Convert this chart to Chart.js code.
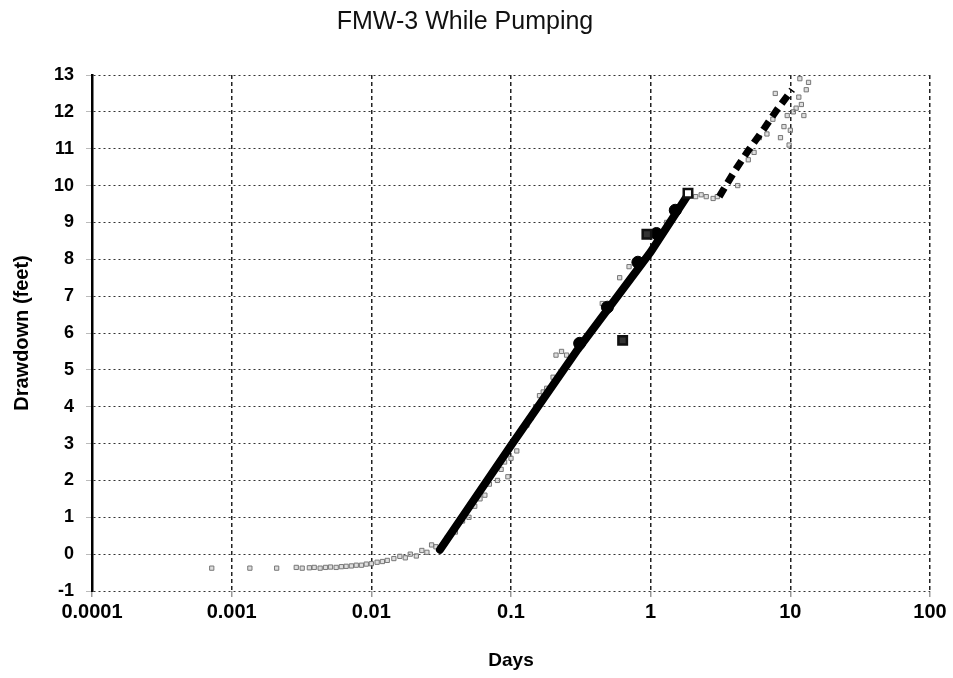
<!DOCTYPE html>
<html>
<head>
<meta charset="utf-8">
<title>FMW-3 While Pumping</title>
<script src="https://cdn.jsdelivr.net/npm/chart.js@4.4.1/dist/chart.umd.min.js"></script>
<style>
    html, body { margin: 0; padding: 0; background: #fff; }
    #wrap { width: 953px; height: 678px; }
</style>
</head>
<body>
<div id="wrap"><canvas id="drawdownChart" width="953" height="678"></canvas></div>
<script>
// Axis ticks
const xTicks = [0.0001, 0.001, 0.01, 0.1, 1, 10, 100];
const xTickLabels = ['0.0001', '0.001', '0.01', '0.1', '1', '10', '100'];

// Raw transducer readings (grey)
const rawDays = [
    0.00072, 0.00135, 0.0021, 0.0029, 0.0032, 0.0036, 0.0039, 0.0043, 0.0047, 0.0051,
    0.0056, 0.0061, 0.0066, 0.0072, 0.0078, 0.0085, 0.0092, 0.01, 0.011, 0.012,
    0.013, 0.0145, 0.016, 0.0175, 0.019, 0.021, 0.023, 0.025, 0.027, 0.029,
    0.035, 0.04, 0.045, 0.05, 0.055, 0.06, 0.065, 0.07, 0.08, 0.085,
    0.09, 0.095, 0.1, 0.11, 0.12, 0.13, 0.14, 0.15, 0.16, 0.17,
    0.18, 0.2, 0.21, 0.23, 0.25, 0.45, 0.6, 0.7, 0.9, 1.1,
    1.3, 1.6, 2.1, 2.3, 2.5, 2.8, 3.0, 4.2, 5.0, 5.5,
    6.0, 6.8, 7.5, 7.8, 8.5, 9.0, 9.5, 9.8, 10.0, 10.5,
    11.0, 11.5, 11.7, 12.0, 12.5, 13.0, 13.5
];
const rawDrawdown = [
    -0.38, -0.38, -0.38, -0.36, -0.38, -0.37, -0.36, -0.38, -0.36, -0.35,
    -0.36, -0.34, -0.33, -0.32, -0.3, -0.3, -0.27, -0.26, -0.22, -0.2,
    -0.17, -0.12, -0.06, -0.1, 0.0, -0.05, 0.1, 0.05, 0.25, 0.2,
    0.45, 0.6, 0.9, 1.0, 1.3, 1.5, 1.6, 1.9, 2.0, 2.3,
    2.5, 2.1, 2.6, 2.8, 3.4, 3.5, 3.7, 4.0, 4.3, 4.4,
    4.5, 4.8, 5.4, 5.5, 5.4, 6.8, 7.5, 7.8, 8.0, 8.6,
    9.0, 9.4, 9.7, 9.75, 9.7, 9.65, 9.7, 10.0, 10.7, 10.9,
    11.3, 11.4, 11.8, 12.5, 11.3, 11.6, 11.9, 11.1, 11.5, 12.0,
    12.1, 12.4, 12.9, 12.2, 11.9, 12.6, 12.8
];

// Fitted drawdown trend (thick black line)
const trendDays = [0.031, 0.1, 0.3, 1, 1.85];
const trendDrawdown = [0.12, 2.95, 5.55, 8.2, 9.75];

// Late-time trend (dashed black)
const lateDays = [3.1, 4.0, 5.0, 6.5, 8.0, 10.3];
const lateDrawdown = [9.7, 10.4, 10.95, 11.55, 12.05, 12.6];

// Manual readings (black dots on the trend)
const manualDays = [0.31, 0.49, 0.81, 1.1, 1.5];
const manualDrawdown = [5.72, 6.7, 7.92, 8.7, 9.33];

// Check readings (squares)
const checkDays = [0.63, 0.94, 1.85];
const checkDrawdown = [5.8, 8.68, 9.79];

const toPoints = (xs, ys) => xs.map((x, i) => ({ x: x, y: ys[i] }));

const FONT = 'Liberation Sans, Arial, sans-serif';
const ctx = document.getElementById('drawdownChart').getContext('2d');

new Chart(ctx, {
    type: 'scatter',
    data: {
        datasets: [
            {
                label: 'Trend',
                data: toPoints(trendDays, trendDrawdown),
                showLine: true,
                borderColor: '#000',
                borderWidth: 8,
                pointRadius: 0,
                borderCapStyle: 'round',
                order: 2
            },
            {
                label: 'Late trend',
                data: toPoints(lateDays, lateDrawdown),
                showLine: true,
                borderColor: '#000',
                borderWidth: 7,
                borderDash: [10, 6],
                pointRadius: 0,
                order: 2
            },
            {
                label: 'Raw',
                data: toPoints(rawDays, rawDrawdown),
                pointStyle: 'rect',
                pointRadius: 3,
                borderColor: '#777',
                backgroundColor: 'rgba(160,160,160,0.35)',
                borderWidth: 1,
                order: 3
            },
            {
                label: 'Manual',
                data: toPoints(manualDays, manualDrawdown),
                pointStyle: 'circle',
                pointRadius: 6,
                borderColor: '#000',
                backgroundColor: '#000',
                order: 1
            },
            {
                label: 'Check',
                data: toPoints(checkDays, checkDrawdown),
                pointStyle: 'rect',
                pointRadius: 6,
                borderColor: '#111',
                backgroundColor: ['#333', '#333', '#fff'],
                borderWidth: 2.5,
                order: 0
            }
        ]
    },
    options: {
        responsive: false,
        animation: false,
        layout: { padding: { left: 0, right: 23, top: 0, bottom: 0 } },
        plugins: {
            legend: { display: false },
            tooltip: { enabled: false },
            title: {
                display: true,
                text: 'FMW-3 While Pumping',
                color: '#111',
                font: { family: FONT, size: 25, weight: 'normal' },
                padding: { top: 7, bottom: 38 }
            }
        },
        scales: {
            x: {
                type: 'logarithmic',
                min: 0.0001,
                max: 100,
                afterBuildTicks: (scale) => {
                    scale.ticks = xTicks.map(v => ({ value: v }));
                },
                afterFit: (scale) => { scale.height = 87; },
                ticks: {
                    color: '#000',
                    padding: 3,
                    autoSkip: false,
                    maxRotation: 0,
                    font: { family: FONT, size: 20, weight: 'bold' },
                    callback: (value) => {
                        const i = xTicks.findIndex(t => Math.abs(t - value) / t < 1e-6);
                        return i >= 0 ? xTickLabels[i] : '';
                    }
                },
                grid: {
                    color: '#222',
                    lineWidth: 1.5,
                    tickLength: 6,
                    tickColor: '#999'
                },
                // dashed decade lines; the bottom edge is the dotted -1 grid line
                border: { display: false, dash: [4, 3] },
                title: {
                    display: true,
                    text: 'Days',
                    color: '#000',
                    font: { family: FONT, size: 19, weight: 'bold' },
                    padding: { top: 0, bottom: 6 }
                }
            },
            y: {
                min: -1,
                max: 13,
                afterFit: (scale) => { scale.width = 92; },
                ticks: {
                    stepSize: 1,
                    color: '#000',
                    padding: 12,
                    font: { family: FONT, size: 18, weight: 'bold' }
                },
                grid: {
                    color: '#333',
                    lineWidth: 1,
                    tickLength: 6,
                    tickColor: '#bbb'
                },
                border: { display: true, color: '#000', width: 2.5, dash: [2, 3] },
                title: {
                    display: true,
                    text: 'Drawdown (feet)',
                    color: '#000',
                    font: { family: FONT, size: 20, weight: 'bold' },
                    padding: { top: 10, bottom: 0 }
                }
            }
        }
    }
});
</script>
</body>
</html>
